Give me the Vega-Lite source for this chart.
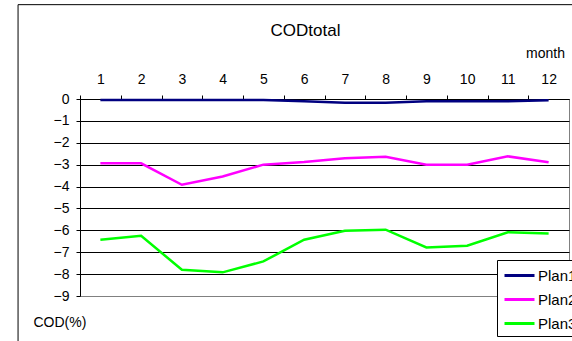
{
  "$schema": "https://vega.github.io/schema/vega-lite/v6.json",
  "width": 489,
  "height": 197,
  "autosize": {"type": "none"},
  "padding": {"left": 80, "top": 99, "right": 3, "bottom": 45},
  "background": "white",
  "title": {
    "text": "CODtotal",
    "anchor": "middle",
    "dx": -19,
    "dy": 55,
    "offset": 6,
    "baseline": "alphabetic",
    "fontSize": 17,
    "fontWeight": "normal",
    "font": "Liberation Sans",
    "color": "black"
  },
  "config": {
    "view": {"stroke": "#808080", "strokeWidth": 1},
    "font": "Liberation Sans",
    "axis": {
      "labelFont": "Liberation Sans",
      "labelFontSize": 14,
      "labelColor": "black",
      "labelOverlap": false,
      "titleFont": "Liberation Sans",
      "titleFontSize": 14,
      "titleFontWeight": "normal",
      "titleColor": "black",
      "domainColor": "black",
      "tickColor": "black"
    }
  },
  "data": {
    "values": [
      {"month": 1, "plan": "Plan1", "cod": -0.05},
      {"month": 2, "plan": "Plan1", "cod": -0.05},
      {"month": 3, "plan": "Plan1", "cod": -0.05},
      {"month": 4, "plan": "Plan1", "cod": -0.05},
      {"month": 5, "plan": "Plan1", "cod": -0.05},
      {"month": 6, "plan": "Plan1", "cod": -0.1},
      {"month": 7, "plan": "Plan1", "cod": -0.17},
      {"month": 8, "plan": "Plan1", "cod": -0.17},
      {"month": 9, "plan": "Plan1", "cod": -0.1},
      {"month": 10, "plan": "Plan1", "cod": -0.1},
      {"month": 11, "plan": "Plan1", "cod": -0.1},
      {"month": 12, "plan": "Plan1", "cod": -0.06},
      {"month": 1, "plan": "Plan2", "cod": -2.94},
      {"month": 2, "plan": "Plan2", "cod": -2.94},
      {"month": 3, "plan": "Plan2", "cod": -3.92},
      {"month": 4, "plan": "Plan2", "cod": -3.54},
      {"month": 5, "plan": "Plan2", "cod": -3.0},
      {"month": 6, "plan": "Plan2", "cod": -2.88},
      {"month": 7, "plan": "Plan2", "cod": -2.71},
      {"month": 8, "plan": "Plan2", "cod": -2.64},
      {"month": 9, "plan": "Plan2", "cod": -3.0},
      {"month": 10, "plan": "Plan2", "cod": -3.0},
      {"month": 11, "plan": "Plan2", "cod": -2.62},
      {"month": 12, "plan": "Plan2", "cod": -2.89},
      {"month": 1, "plan": "Plan3", "cod": -6.43},
      {"month": 2, "plan": "Plan3", "cod": -6.25},
      {"month": 3, "plan": "Plan3", "cod": -7.8},
      {"month": 4, "plan": "Plan3", "cod": -7.92},
      {"month": 5, "plan": "Plan3", "cod": -7.42},
      {"month": 6, "plan": "Plan3", "cod": -6.43},
      {"month": 7, "plan": "Plan3", "cod": -6.02},
      {"month": 8, "plan": "Plan3", "cod": -5.97},
      {"month": 9, "plan": "Plan3", "cod": -6.78},
      {"month": 10, "plan": "Plan3", "cod": -6.7},
      {"month": 11, "plan": "Plan3", "cod": -6.09},
      {"month": 12, "plan": "Plan3", "cod": -6.15}
    ]
  },
  "layer": [
    {
      "data": {"values": [{}]},
      "mark": {"type": "rect", "fill": null, "fillOpacity": 0, "stroke": "black", "strokeWidth": 1},
      "encoding": {
        "x": {"datum": -1.02, "type": "quantitative"},
        "x2": {"datum": 14},
        "y": {"datum": 4.31, "type": "quantitative"},
        "y2": {"datum": -12}
      }
    },
    {
      "mark": {"type": "line", "strokeWidth": 2.5},
      "encoding": {
        "x": {
          "field": "month",
          "type": "quantitative",
          "scale": {"domain": [0.5, 12.5], "nice": false, "zero": false},
          "axis": {
            "orient": "top",
            "values": [1, 2, 3, 4, 5, 6, 7, 8, 9, 10, 11, 12],
            "tickCount": 30,
            "format": "d",
            "tickOffset": -20.375,
            "labelOffset": 20.375,
            "tickSize": 4,
            "labelPadding": 9,
            "grid": false,
            "title": "month",
            "titleX": 465,
            "titleY": -46,
            "titleAlign": "center",
            "titleBaseline": "middle"
          }
        },
        "y": {
          "field": "cod",
          "type": "quantitative",
          "scale": {"domain": [-9, 0], "nice": false, "zero": false},
          "axis": {
            "values": [-9, -8, -7, -6, -5, -4, -3, -2, -1, 0],
            "tickCount": 30,
            "format": "d",
            "tickSize": 4,
            "labelPadding": 7,
            "grid": true,
            "gridColor": {"condition": {"test": "datum.value === -9", "value": "#808080"}, "value": "black"},
            "gridOpacity": 1,
            "gridWidth": 1,
            "title": "COD(%)",
            "titleAngle": 0,
            "titleAlign": "left",
            "titleBaseline": "middle",
            "titleX": -47,
            "titleY": 223
          }
        },
        "color": {
          "field": "plan",
          "type": "nominal",
          "scale": {"domain": ["Plan1", "Plan2", "Plan3"], "range": ["#000080", "#FF00FF", "#00FF00"]},
          "legend": {
            "title": null,
            "orient": "none",
            "legendX": 417,
            "legendY": 161,
            "fillColor": "white",
            "strokeColor": "black",
            "padding": 4,
            "symbolType": "M-1.5,0H1.5",
            "symbolSize": 400,
            "symbolOffset": 7,
            "symbolStrokeWidth": 3,
            "labelFontSize": 15,
            "labelFont": "Liberation Sans",
            "labelColor": "black",
            "labelOffset": 7,
            "rowPadding": 4
          }
        }
      }
    }
  ]
}
